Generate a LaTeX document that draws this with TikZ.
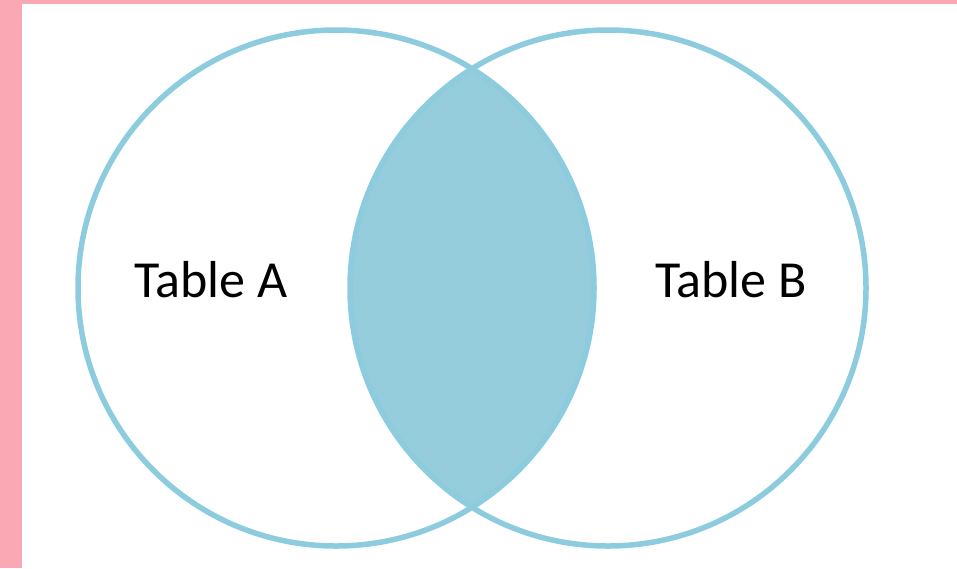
\documentclass[tikz,border=0pt]{standalone}
\usepackage{fontspec}
\setmainfont{Carlito}
\definecolor{pinkband}{RGB}{250,168,180}
\definecolor{ringblue}{RGB}{140,204,222}
\definecolor{lensblue}{RGB}{150,205,221}
\begin{document}
\begin{tikzpicture}[x=1pt,y=-1pt,
  ring/.style={draw=ringblue,line width=5.5pt},
  label/.style={font=\fontsize{52}{60}\selectfont,text=black,anchor=base,inner sep=0pt}]
\useasboundingbox (0,0) rectangle (957,568);
\fill[white] (0,0) rectangle (957,568);
\fill[pinkband] (0,0) rectangle (22,568);
\fill[pinkband] (0,0) rectangle (957,4);
\coordinate (ca) at (336,288);
\coordinate (cb) at (608,288);
\begin{scope}
  \clip (ca) circle (258);
  \fill[lensblue] (cb) circle (258);
\end{scope}
\draw[ring] (ca) circle (258);
\draw[ring] (cb) circle (258);
\node[label] (ta) at (211,297) {Table A};
\node[label] (tb) at (731,297) {Table B};
\end{tikzpicture}
\end{document}
